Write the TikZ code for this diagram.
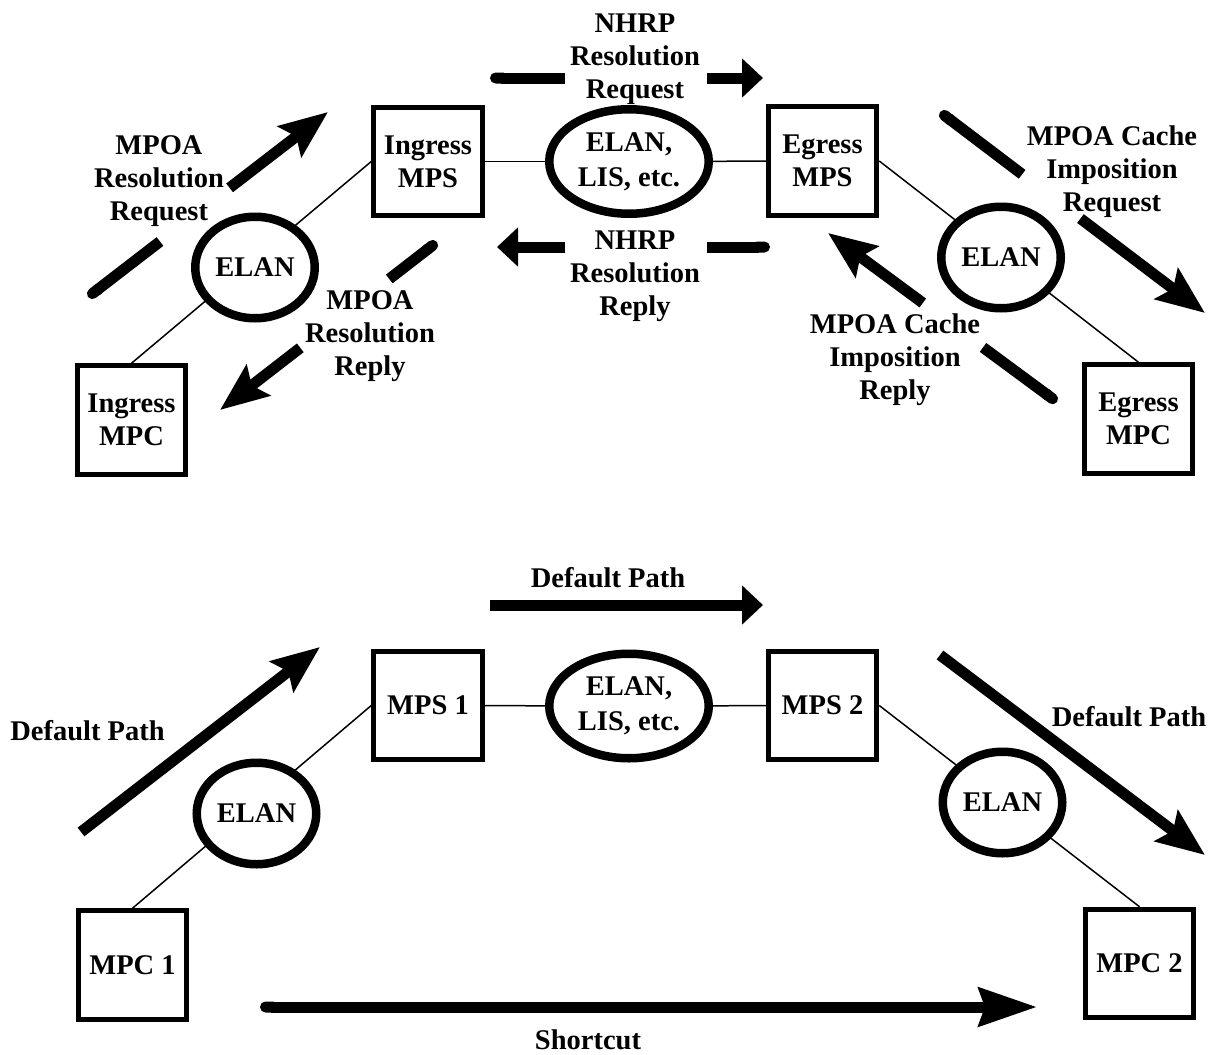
\documentclass[tikz,border=0pt]{standalone}
\usepackage{fontspec}
\setmainfont{Liberation Serif}
\usetikzlibrary{arrows.meta,shapes.geometric,calc,backgrounds}
\tikzset{
  box/.style={draw, line width=5pt, minimum width=108.5pt, minimum height=108.5pt, inner sep=0pt, align=center, fill=white},
  elan/.style={draw, ellipse, line width=8.5pt, minimum width=119.5pt, minimum height=101.5pt, inner sep=0pt, align=center, fill=white},
  bigelan/.style={elan, minimum width=159.5pt, minimum height=104.5pt},
  conn/.style={line width=1.5pt},
  fat/.style={line width=11pt},
  longhead/.style={-{Stealth[length=48pt,width=38pt,inset=8pt]}},
  shorthead/.style={-{Triangle[length=21pt,width=38pt]}},
  roundstart/.style={{Round Cap[]}-},
  lbl/.style={align=center, inner sep=0pt},
}
\begin{document}
\begin{tikzpicture}[x=1pt,y=-1pt,font=\fontsize{28.5}{33}\selectfont\bfseries]
\useasboundingbox (0,0) rectangle (1211,1055);

% ---------- top diagram ----------
\node[box] (imps) at (428,161.5) {Ingress\\MPS};
\node[box] (emps) at (822.5,161) {Egress\\MPS};
\node[box] (impc) at (131.5,420) {Ingress\\MPC};
\node[box] (empc) at (1138.5,419) {Egress\\MPC};
\node[bigelan] (tlan) at (629,161.5) {ELAN,\\[2pt]LIS, etc.};
\node[elan] (ielan) at (255,267.5) {ELAN};
\node[elan] (eelan) at (1001,257.5) {ELAN};

% ---------- bottom diagram ----------
\node[box] (mps1) at (428,705.5) {MPS 1};
\node[box] (mps2) at (822.5,705.5) {MPS 2};
\node[box] (mpc1) at (132.5,965) {MPC 1};
\node[box] (mpc2) at (1139.5,963.5) {MPC 2};
\node[bigelan] (blan) at (629,706) {ELAN,\\[2pt]LIS, etc.};
\node[elan] (belana) at (256.5,813.5) {ELAN};
\node[elan] (belanb) at (1002.5,802.5) {ELAN};

\begin{scope}[on background layer]
  \draw[conn] (impc.north) -- (imps.west);
  \draw[conn] (imps) -- (tlan);
  \draw[conn] (tlan) -- (emps);
  \draw[conn] (emps.east) -- (empc.north);
  \draw[conn] (mpc1.north) -- (mps1.west);
  \draw[conn] (mps1) -- (blan);
  \draw[conn] (blan) -- (mps2);
  \draw[conn] (mps2.east) -- (mpc2.north);
\end{scope}

% ---------- top arrows ----------
% MPOA Resolution Request
\coordinate (rqs) at (88,297);
\coordinate (rqe) at (328,112);
\draw[fat, roundstart] (rqs) -- ($(rqs)!0.30!(rqe)$);
\draw[fat, longhead] ($(rqs)!0.59!(rqe)$) -- (rqe);
\node[lbl] (lrq) at (159,181.5) {MPOA\\Resolution\\Request};

% MPOA Resolution Reply
\coordinate (rps) at (437,242);
\coordinate (rpe) at (220,410);
\draw[fat, roundstart] (rps) -- ($(rps)!0.22!(rpe)$);
\draw[fat, longhead] ($(rps)!0.63!(rpe)$) -- (rpe);
\node[lbl] (lrp) at (370,336.5) {MPOA\\Resolution\\Reply};

% NHRP Resolution Request
\coordinate (nqs) at (490,78);
\coordinate (nqa) at (565,78);
\coordinate (nqb) at (707,78);
\coordinate (nqe) at (763,78);
\draw[fat, roundstart] (nqs) -- (nqa);
\draw[fat, shorthead] (nqb) -- (nqe);
\node[lbl] (lnq) at (635,59) {NHRP\\Resolution\\Request};

% NHRP Resolution Reply
\coordinate (nps) at (770,247);
\coordinate (npa) at (707,247);
\coordinate (npb) at (565,247);
\coordinate (npe) at (497,247);
\draw[fat, roundstart] (nps) -- (npa);
\draw[fat, shorthead] (npb) -- (npe);
\node[lbl] (lnp) at (635,276.5) {NHRP\\Resolution\\Reply};

% MPOA Cache Imposition Request
\coordinate (cqs) at (940,112);
\coordinate (cqe) at (1205,313);
\draw[fat, roundstart] (cqs) -- ($(cqs)!0.31!(cqe)$);
\draw[fat, longhead] ($(cqs)!0.53!(cqe)$) -- (cqe);
\node[lbl] (lcq) at (1112,172) {MPOA Cache\\Imposition\\Request};

% MPOA Cache Imposition Reply
\coordinate (cps) at (1057,402);
\coordinate (cpe) at (828,233);
\draw[fat, roundstart] (cps) -- ($(cps)!0.323!(cpe)$);
\draw[fat, longhead] ($(cps)!0.586!(cpe)$) -- (cpe);
\node[lbl] (lcp) at (895,359.5) {MPOA Cache\\Imposition\\Reply};

% ---------- bottom arrows ----------
\coordinate (dls) at (81,832);
\coordinate (dle) at (320,647);
\draw[fat, roundstart, longhead] (dls) -- (dle);
\node[lbl, anchor=base] (ldl) at (87.5,740) {Default Path};

\coordinate (dts) at (490,605);
\coordinate (dte) at (763,605);
\draw[fat, roundstart, shorthead] (dts) -- (dte);
\node[lbl, anchor=base] (ldt) at (608,587) {Default Path};

\coordinate (drs) at (940,655);
\coordinate (dre) at (1205,855);
\draw[fat, roundstart, longhead] (drs) -- (dre);
\node[lbl, anchor=base] (ldr) at (1129,726) {Default Path};

\coordinate (scs) at (260,1007);
\coordinate (sce) at (1037,1007);
\draw[fat, {Round Cap[]}-{Stealth[length=58pt,width=38pt,inset=6pt]}] (scs) -- (sce);
\node[lbl, anchor=base] (lsc) at (588,1049) {Shortcut};
\end{tikzpicture}
\end{document}
